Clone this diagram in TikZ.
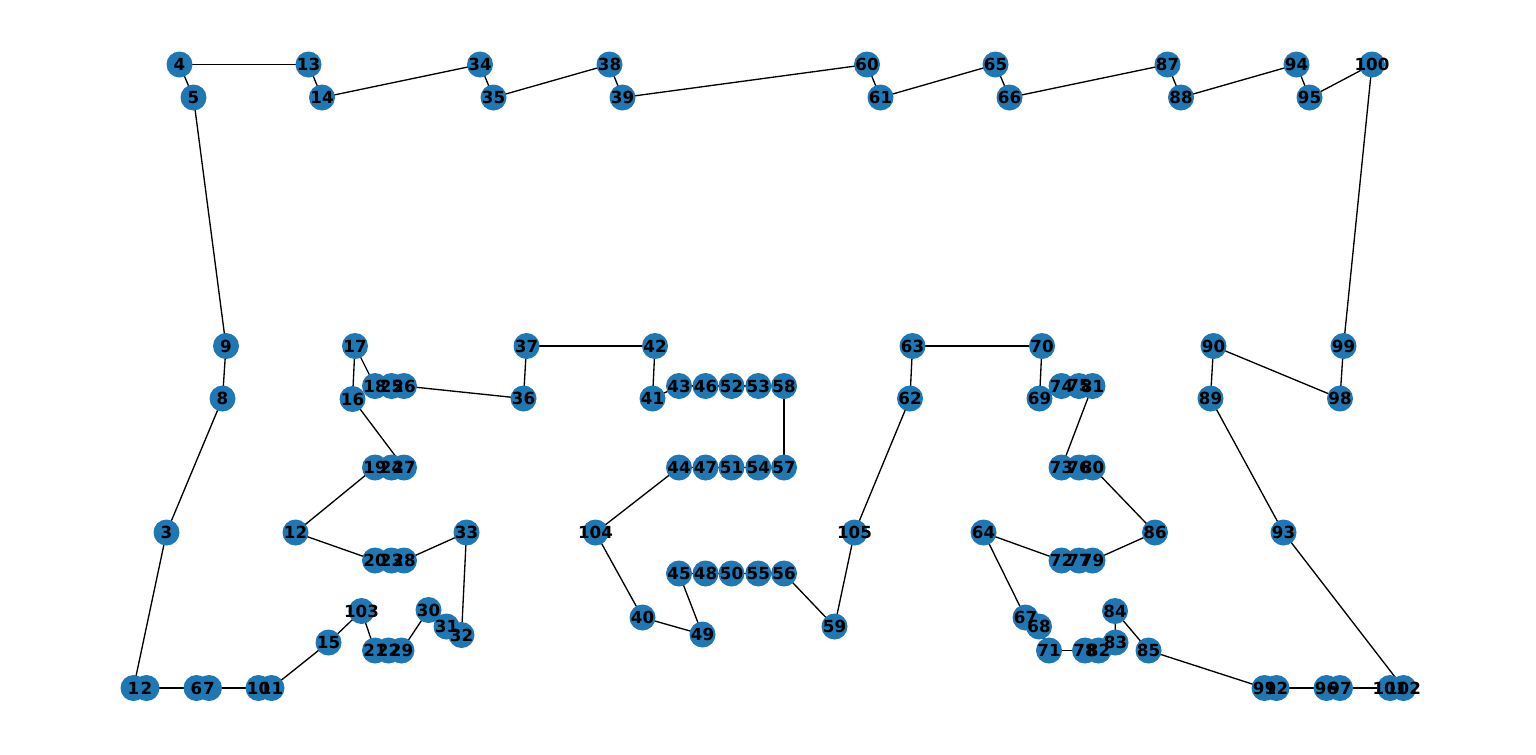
\documentclass[tikz,border=0pt]{standalone}
\usepackage{fontspec}
\setmainfont{DejaVu Sans}
\definecolor{cityblue}{HTML}{1F77B4}
\pgfdeclarelayer{edges}
\pgfsetlayers{edges,main}
\tikzset{
    city/.style={circle, fill=cityblue, minimum size=19.5pt, inner sep=0pt},
    citylabel/.style={font=\bfseries\fontsize{12.5}{12.5}\selectfont, inner sep=0pt},
    tour/.style={black, line width=1pt}
}

\begin{document}
\begin{tikzpicture}[x=0.75pt, y=-0.75pt]
    \useasboundingbox (0,0) rectangle (1536,754);
    % cities
    \foreach \i/\x/\y in {
        1/133.5/688, 2/146.5/688, 3/166.5/532.5, 4/179.5/64.5, 5/193.5/97.5,
        6/196.5/688, 7/209/688, 8/222.5/398.5, 9/226/346, 10/258.5/688,
        11/271.5/688, 12/295.5/532.5, 13/308.5/64.5, 14/322/97.5, 15/328.5/642.5,
        16/352.5/399, 17/355/346, 18/375/386, 19/375/467.5, 20/375/560.5,
        21/375/650.5, 22/388.5/650.5, 23/391.5/560.5, 24/391.5/467.5, 25/391.5/386,
        26/404/386, 27/404/467.5, 28/404/560.5, 29/401.5/650.5, 30/428.5/610,
        31/446.5/626.5, 32/461.5/635, 33/466.5/532.5, 34/480/64.5, 35/493.5/97.5,
        36/523.5/398.5, 37/526.5/346, 38/609.5/64.5, 39/622.5/97.5, 40/642.5/617.5,
        41/652.5/398.5, 42/655/346, 43/679/386, 44/679/467.5, 45/679/573.5,
        46/705.5/386, 47/705.5/467.5, 48/705.5/573.5, 49/702.5/634.5, 50/731.5/573.5,
        51/731.5/467.5, 52/731.5/386, 53/758.3/386, 54/758.3/467.5, 55/758.3/573.5,
        56/784/573.5, 57/784/467.5, 58/784/386, 59/834.5/626.5, 60/867/64.5,
        61/880.5/97.5, 62/910/398.5, 63/912.5/346, 64/983.5/532.5, 65/995.5/64.5,
        66/1009.5/97.5, 67/1025.5/617.5, 68/1039/626.5, 69/1039.5/398.5, 70/1042/346,
        71/1049/650.5, 72/1061.5/560.5, 73/1061.5/467.5, 74/1061.5/386, 75/1079/386,
        76/1079/467.5, 77/1079/560.5, 78/1085/650.5, 79/1092.5/560.5, 80/1092.5/467.5,
        81/1092.5/386, 82/1098.5/650.5, 83/1115.5/642.5, 84/1115/611, 85/1148.5/650.5,
        86/1155/532.5, 87/1167.5/64.5, 88/1181/97.5, 89/1210.5/398.5, 90/1213.5/346,
        91/1264.5/688, 92/1276.5/688, 93/1283.5/532.5, 94/1296.5/64.5, 95/1309.5/97.5,
        96/1326.5/688, 97/1340/688, 98/1340/398.5, 99/1343.5/346, 100/1372/64.5,
        101/1390/688, 102/1403.5/688, 103/361.5/611, 104/595.5/532.5, 105/854.5/532.5}
        \node[city] (n\i) at (\x,\y) {};
    \foreach \i in {1,...,105}
        \node[citylabel] at (n\i) {\i};
    % tour
    \begin{pgfonlayer}{edges}
    \foreach \b [remember=\b as \a (initially 1)] in {
        2,6,7,10,11,15,103,21,22,29,30,31,32,33,28,23,20,12,19,24,27,16,17,18,25,26,
        36,37,42,41,43,46,52,53,58,57,54,51,47,44,104,40,49,45,48,50,55,56,59,105,
        62,63,70,69,74,75,81,73,76,80,86,79,77,72,64,67,68,71,78,82,83,84,85,91,92,
        96,97,101,102,93,89,90,98,99,100,95,94,88,87,66,65,61,60,39,38,35,34,14,13,
        4,5,9,8,3,1}
        \draw[tour] (n\a.center) -- (n\b.center);
    \end{pgfonlayer}
\end{tikzpicture}
\end{document}
